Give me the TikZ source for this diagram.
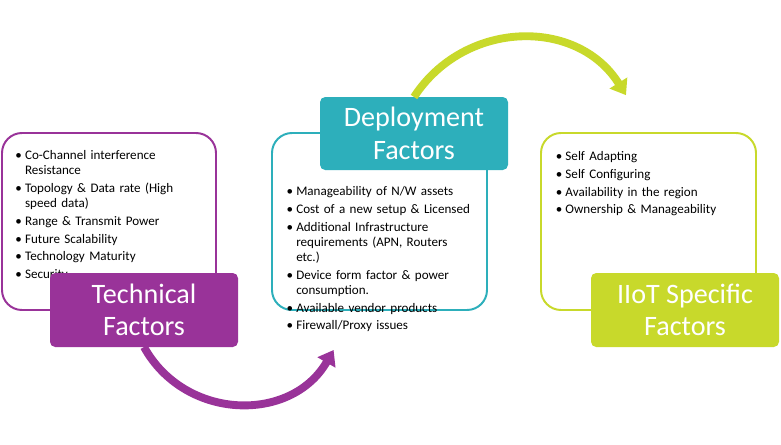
\documentclass[tikz,border=0pt]{standalone}
\usepackage{fontspec}
\setmainfont{Carlito}
\usepackage{xcolor}
\usepackage{tikz}
\usetikzlibrary{calc, arrows.meta, positioning}

\definecolor{techpurple}{HTML}{993399}
\definecolor{deployteal}{HTML}{2DAFBB}
\definecolor{iiotgreen}{HTML}{C8D92B}

\newcommand{\bul}[1]{\par\hangindent=0.24cm\hangafter=1\noindent\makebox[0.24cm][l]{\textbullet}#1}

\tikzset{
    outbox/.style={draw=#1, line width=1.4pt, rounded corners=0.5cm, fill=white,
        inner sep=0pt, outer sep=0pt},
    titlebox/.style={fill=#1, rounded corners=0.13cm, text=white, align=center,
        minimum width=4.7cm, inner sep=0pt, outer sep=0pt,
        font=\fontsize{20}{23}\selectfont},
    bulletlist/.style={anchor=north west, inner sep=0pt, text width=5cm, align=left,
        font=\fontsize{9.3}{10.8}\selectfont},
    flowarrow/.style={line width=5.6pt, draw=#1,
        -{Triangle[length=0.36cm, width=0.5cm, fill=#1]}}
}

\begin{document}
\begin{tikzpicture}[>=latex]
    \useasboundingbox (0,0) rectangle (19.525,11.1);

    % 1. Outline boxes
    \node[outbox=techpurple, minimum width=5.35cm, minimum height=4.425cm] (techout) at (2.725,5.5625) {};
    \node[outbox=deployteal, minimum width=5.375cm, minimum height=4.425cm] (deployout) at (9.4875,5.5625) {};
    \node[outbox=iiotgreen, minimum width=5.375cm, minimum height=4.425cm] (iiotout) at (16.2125,5.5625) {};

    % 2. Bullet lists
    \node[bulletlist] (techlist) at (0.38,7.56) {\setlength{\parskip}{1.8pt}%
        \bul{Co-Channel interference\newline Resistance}
        \bul{Topology \& Data rate (High\newline speed data)}
        \bul{Range \& Transmit Power}
        \bul{Future Scalability}
        \bul{Technology Maturity}
        \bul{Security}};
    \node[bulletlist] (deploylist) at (7.16,6.66) {\setlength{\parskip}{1.8pt}%
        \bul{Manageability of N/W assets}
        \bul{Cost of a new setup \& Licensed}
        \bul{Additional Infrastructure\newline requirements (APN, Routers\newline etc.)}
        \bul{Device form factor \& power\newline consumption.}
        \bul{Available vendor products}
        \bul{Firewall/Proxy issues}};
    \node[bulletlist] (iiotlist) at (13.89,7.53) {\setlength{\parskip}{1.8pt}%
        \bul{Self Adapting}
        \bul{Self Configuring}
        \bul{Availability in the region}
        \bul{Ownership \& Manageability}};

    % 3. Title boxes
    \node[titlebox=techpurple, minimum height=1.85cm] (tech) at (3.6,3.35) {Technical\\Factors};
    \node[titlebox=deployteal, minimum height=1.825cm] (deploy) at (10.35,7.7625) {Deployment\\Factors};
    \node[titlebox=iiotgreen, minimum height=1.85cm] (iiot) at (17.125,3.35) {IIoT Specific\\Factors};

    % 4. Curved arrows
    \coordinate (ptip) at (8.34,2.35);
    \coordinate (ytip) at (15.65,8.72);
    \draw[flowarrow=techpurple] (tech.south) to[out=-61, in=240, looseness=1.14] (ptip);
    \draw[flowarrow=iiotgreen] (deploy.north) to[out=57, in=122, looseness=1.11] (ytip);
\end{tikzpicture}
\end{document}
